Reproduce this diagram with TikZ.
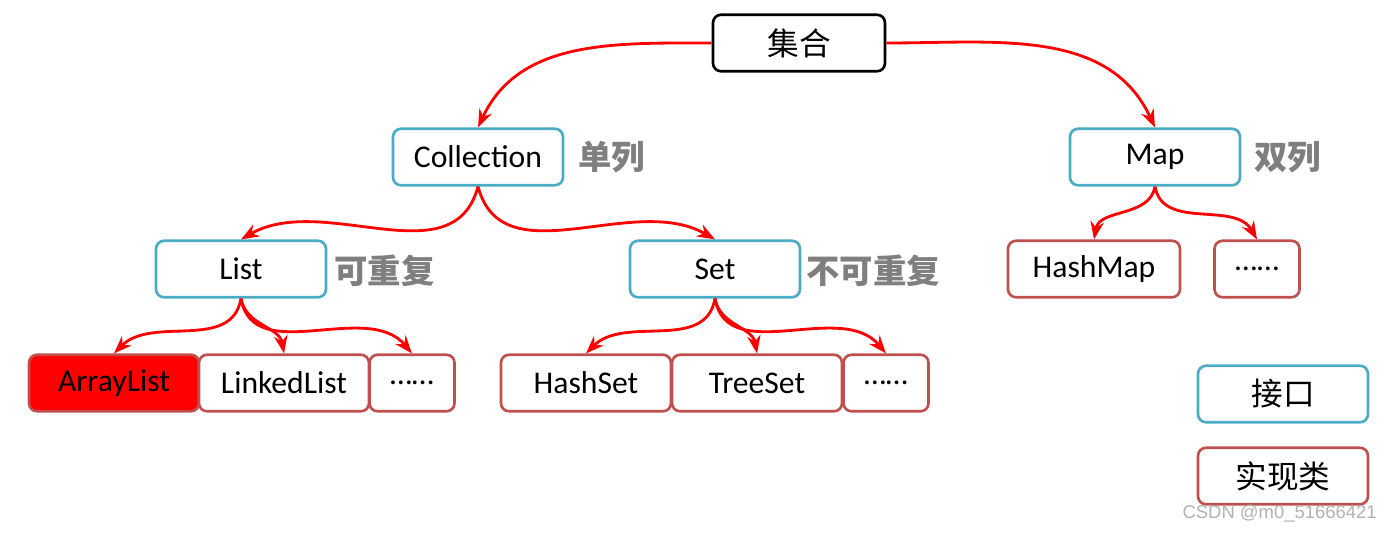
\documentclass[tikz,border=0pt]{standalone}
\usepackage{fontspec}
\setmainfont{Carlito}
\newfontfamily\cjk{Noto Sans CJK SC}
\newfontfamily\wmfont{Liberation Sans}
\usetikzlibrary{arrows.meta}
\definecolor{ifblue}{HTML}{4BACC6}
\definecolor{implred}{HTML}{C0504D}
\definecolor{notegray}{HTML}{7F7F7F}

\begin{document}
\begin{tikzpicture}[x=0.02cm,y=-0.02cm,>=Stealth,
    box/.style={rounded corners=0.16cm,line width=1.5pt,fill=white,
      minimum height=1.13cm,minimum width=3.4cm,inner sep=0pt,
      font=\fontsize{18}{20}\selectfont},
    iface/.style={box,draw=ifblue},
    impl/.style={box,draw=implred},
    small/.style={minimum width=1.7cm},
    note/.style={anchor=west,text=notegray,inner sep=0pt,
      font=\cjk\bfseries\fontsize{19}{21}\selectfont},
    link/.style={->,red,line width=1.6pt}]
  \useasboundingbox (0,0) rectangle (1392,532);
  % top
  \node[box,draw=black,minimum width=3.44cm] (top) at (799,43) {\cjk 集合};
  % interfaces
  \node[iface] (coll) at (478,157) {Collection};
  \node[iface] (map) at (1155,157) {Map};
  \node[iface] (list) at (241,269) {List};
  \node[iface] (set) at (715,269) {Set};
  \node[note] (collnote) at (578,157) {单列};
  \node[note] (mapnote) at (1254,157) {双列};
  \node[note] (listnote) at (334,271) {可重复};
  \node[note] (setnote) at (806,271) {不可重复};
  % classes
  \node[impl,fill=red] (alist) at (114,383) {ArrayList};
  \node[impl] (llist) at (284,383) {LinkedList};
  \node[impl,small] (lmore) at (412,383) {\dots\dots};
  \node[impl] (hset) at (586,383) {HashSet};
  \node[impl] (tset) at (757,383) {TreeSet};
  \node[impl,small] (smore) at (886,383) {\dots\dots};
  \node[impl,minimum width=3.44cm] (hmap) at (1094,269) {HashMap};
  \node[impl,small] (mmore) at (1257,269) {\dots\dots};
  % legend
  \node[iface] (legif) at (1283,394) {\cjk 接口};
  \node[impl] (legimpl) at (1283,476) {\cjk 实现类};
  % arrows
  \draw[link] (top.west) to[out=180,in=65] (coll.north);
  \draw[link] (top.east) to[out=0,in=115] (map.north);
  \draw[link] (coll.south) to[out=-105,in=30] (list.north);
  \draw[link] (coll.south) to[out=-75,in=150] (set.north);
  \draw[link] (list.south) to[out=-100,in=45] (alist.north);
  \draw[link] (list.south) to[out=-80,in=100] (llist.north);
  \draw[link] (list.south) to[out=-80,in=130] (lmore.north);
  \draw[link] (set.south) to[out=-100,in=45] (hset.north);
  \draw[link] (set.south) to[out=-80,in=100] (tset.north);
  \draw[link] (set.south) to[out=-80,in=130] (smore.north);
  \draw[link] (map.south) to[out=-100,in=80] (hmap.north);
  \draw[link] (map.south) to[out=-80,in=120] (mmore.north);
  \node[anchor=east,text=gray!60,inner sep=0pt,
    font=\wmfont\fontsize{10.5}{12}\selectfont] (mark) at (1377,514) {CSDN @m0\_51666421};
\end{tikzpicture}
\end{document}
